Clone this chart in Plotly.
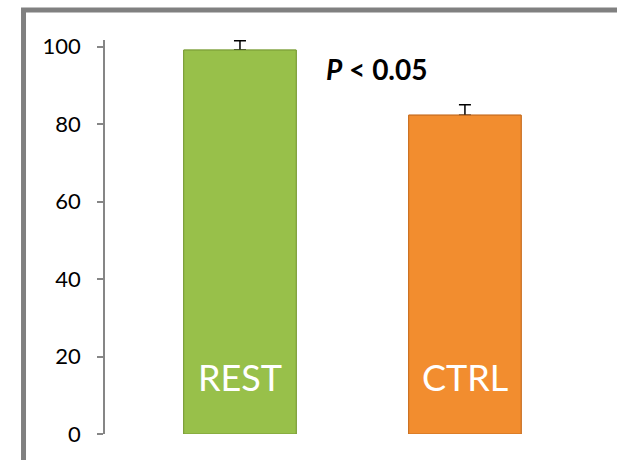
import plotly.graph_objects as go

categories = ["REST", "CTRL"]
values = [99.1, 82.3]
errors = [2.4, 2.7]
bar_colors = ["#98C04A", "#F28D2F"]
edge_colors = ["#7A9C36", "#C86E20"]
y_ticks = [0, 20, 40, 60, 80, 100]
p_label = "<i>P</i> < 0.05"

fig = go.Figure()
# error bars (upper only), drawn under a covering bar copy
fig.add_trace(go.Bar(
    x=[0, 1], y=values, width=0.5,
    marker=dict(color=bar_colors, line=dict(color=edge_colors, width=1)),
    error_y=dict(type="data", array=errors, arrayminus=[0, 0], symmetric=False,
                 color="black", thickness=1.5, width=6),
    showlegend=False, hoverinfo="skip",
))
fig.add_trace(go.Bar(
    x=[0, 1], y=values, width=0.5,
    marker=dict(color=bar_colors, line=dict(color=edge_colors, width=1)),
    showlegend=False, hoverinfo="skip",
))

for i, c in enumerate(categories):
    fig.add_annotation(x=i, y=14.7, text=c, showarrow=False,
                       font=dict(family="Lato", size=36, color="white"),
                       xanchor="center", yanchor="middle")

fig.add_annotation(x=0.609, y=94.1, text="<b>" + p_label + "</b>", showarrow=False,
                   font=dict(family="Lato", size=28, color="black"),
                   xanchor="center", yanchor="middle")

# outer frame
fig.add_shape(type="rect", xref="paper", yref="paper",
              x0=-0.168, x1=1.3, y0=-0.3, y1=1.076,
              line=dict(color="#808080", width=5), layer="below")

fig.update_layout(
    width=617, height=460,
    barmode="overlay",
    margin=dict(l=105, r=27, t=40, b=26),
    paper_bgcolor="white", plot_bgcolor="white",
    xaxis=dict(range=[-0.6, 1.556], showticklabels=False, showline=False,
               showgrid=False, zeroline=False, ticks=""),
    yaxis=dict(range=[0, 101.7], tickvals=y_ticks, showline=True,
               linecolor="#868686", linewidth=1.5, ticks="outside", ticklen=6,
               tickcolor="#868686", tickwidth=1.5, showgrid=False, zeroline=False,
               tickfont=dict(family="Lato", size=22, color="black"), ticklabelstandoff=12),
)

fig.write_html("out.html", config={"displayModeBar": False},
               post_script="document.body.style.margin='0';")
